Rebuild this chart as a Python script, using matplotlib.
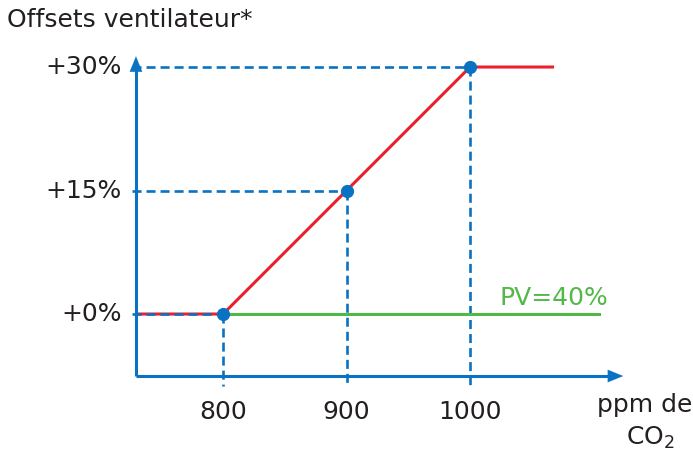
import matplotlib
matplotlib.use("Agg")
import matplotlib.pyplot as plt

ppm_points = [800, 900, 1000]
offset_points = [0, 15, 30]
ppm_start, ppm_end = 730, 1068
green_end = 1104
y_ticks = [0, 15, 30]
y_labels = ["+0%", "+15%", "+30%"]
x_ticks = [800, 900, 1000]
x_labels = ["800", "900", "1000"]

BLUE = "#0a72c2"
RED = "#e9212b"
GREEN = "#52b848"
TXT = "#231f20"
FS = 18

plt.rcParams["font.family"] = ["DejaVu Sans"]
plt.rcParams["mathtext.fontset"] = "dejavusans"
plt.rcParams["lines.scale_dashes"] = False

fig = plt.figure(figsize=(6.93, 4.54), dpi=100)
ax = fig.add_axes([0, 0, 1, 1])
ax.set_xlim(619.4, 1180.5)
ax.set_ylim(-17.0, 38.14)
ax.axis("off")

x_axis_y = -7.53
y_axis_x = 729.5
dash = (0, (6.5, 3.6))

# lignes pointillées de repère
for xv, yv in zip(ppm_points, offset_points):
    ax.plot([xv, xv], [yv, -8.8], color=BLUE, lw=1.9, linestyle=dash, zorder=2)
for xv, yv in zip(ppm_points[1:], offset_points[1:]):
    ax.plot([726.5, xv], [yv, yv], color=BLUE, lw=1.9, linestyle=dash, zorder=2)

# courbe ventilateur
xs = [ppm_start] + ppm_points + [ppm_end]
ys = [0] + offset_points + [offset_points[-1]]
ax.plot(xs, ys, color=RED, lw=2.2, zorder=3, solid_capstyle="butt")
ax.plot([726.5, 800], [0, 0], color=BLUE, lw=1.9, linestyle=dash, zorder=4)

# PV
ax.plot([800, green_end], [0, 0], color=GREEN, lw=2.2, zorder=2)
ax.text(1024, 0.5, "PV=40%", color=GREEN, fontsize=FS, ha="left", va="bottom")

# points
ax.plot(ppm_points, offset_points, "o", color=BLUE, ms=8.5, zorder=5)

# axes avec flèches
ax.plot([y_axis_x, 1112], [x_axis_y, x_axis_y], color=BLUE, lw=2.2, zorder=4,
        solid_capstyle="butt")
ax.plot([y_axis_x, y_axis_x], [x_axis_y, 29.8], color=BLUE, lw=2.2, zorder=4,
        solid_capstyle="butt")
ax.annotate("", xy=(1124, x_axis_y), xytext=(1108, x_axis_y),
            arrowprops=dict(arrowstyle="-|>,head_length=1.1,head_width=0.45",
                            color=BLUE, lw=0.1, shrinkA=0, shrinkB=0), zorder=5)
ax.annotate("", xy=(y_axis_x, 31.3), xytext=(y_axis_x, 29.5),
            arrowprops=dict(arrowstyle="-|>,head_length=1.1,head_width=0.45",
                            color=BLUE, lw=0.1, shrinkA=0, shrinkB=0), zorder=5)

# étiquettes
for yv, lab in zip(y_ticks, y_labels):
    ax.text(718, yv, lab, fontsize=FS, color=TXT, ha="right", va="center")
for xv, lab in zip(x_ticks, x_labels):
    ax.text(xv, -11.9, lab, fontsize=FS, color=TXT, ha="center", va="center")

fig.text(7 / 693, 1 - 20 / 454, "Offsets ventilateur*", fontsize=FS, color=TXT,
         ha="left", va="center")
fig.text(645 / 693, 1 - 405 / 454, "ppm de", fontsize=FS, color=TXT,
         ha="center", va="center")
fig.text(650 / 693, 1 - 438 / 454, r"CO$_\mathregular{2}$", fontsize=FS, color=TXT,
         ha="center", va="center")

fig.savefig("out.png", dpi=100)
